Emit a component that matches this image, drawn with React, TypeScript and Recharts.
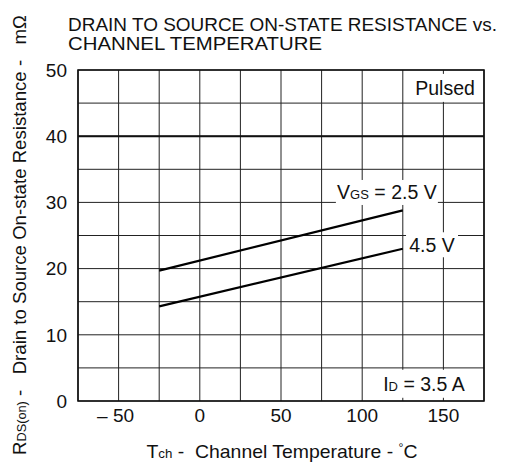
import React from 'react';
import {
  LineChart,
  Line,
  XAxis,
  YAxis,
  CartesianGrid,
  ReferenceLine,
  ReferenceArea,
  ReferenceDot,
  Label,
} from 'recharts';

// Channel temperature (°C) at the ends of each curve
const temps = [-25, 125];
// RDS(on) in mΩ
const vgs25 = [19.7, 28.8];
const vgs45 = [14.3, 23.0];

const xTicks = [-75, -50, -25, 0, 25, 50, 75, 100, 125, 150, 175];
const xLabelled = [-50, 0, 50, 100, 150];
const yTicks = [0, 5, 10, 15, 20, 25, 30, 35, 40, 45, 50];
const yLabelled = [0, 10, 20, 30, 40, 50];

const data = temps.map((t, i) => ({ t, v25: vgs25[i], v45: vgs45[i] }));

const FONT = '"Liberation Sans", Arial, Helvetica, sans-serif';

type BoxProps = {
  viewBox?: any;
  w: number;
  h: number;
  children: React.ReactNode;
  fontSize?: number;
};

const BoxLabel = ({ viewBox, w, h, children, fontSize = 19.5 }: BoxProps) => {
  if (!viewBox) return null;
  const cx = viewBox.x + (viewBox.width || 0) / 2;
  const cy = viewBox.y + (viewBox.height || 0) / 2;
  return (
    <g>
      <rect x={cx - w / 2} y={cy - h / 2} width={w} height={h} fill="#fff" />
      <text
        x={cx}
        y={cy}
        dy="0.36em"
        textAnchor="middle"
        fontFamily={FONT}
        fontSize={fontSize}
        fill="#111"
      >
        {children}
      </text>
    </g>
  );
};

const XTick = (props: any) => {
  const { x, y, payload } = props;
  const v = payload.value;
  if (!xLabelled.includes(v)) return null;
  const txt = v < 0 ? `– ${Math.abs(v)}` : `${v}`;
  return (
    <text
      x={x}
      y={y}
      dy="0.71em"
      dx={v < 0 ? -3 : 0}
      textAnchor="middle"
      fontFamily={FONT}
      fontSize={19}
      fill="#111"
    >
      {txt}
    </text>
  );
};

const YTick = (props: any) => {
  const { x, y, payload } = props;
  const v = payload.value;
  if (!yLabelled.includes(v)) return null;
  return (
    <text
      x={x}
      y={y}
      dy="0.36em"
      textAnchor="end"
      fontFamily={FONT}
      fontSize={19}
      fill="#111"
    >
      {v}
    </text>
  );
};

export default function App() {
  return (
    <div style={{ position: 'absolute', left: 0, top: 0, width: 516, height: 467, background: '#fff' }}>
      <svg
        width={516}
        height={467}
        style={{ position: 'absolute', left: 0, top: 0 }}
      >
        <text x={68} y={31} fontFamily={FONT} fontSize={18.5} fill="#111" textLength={429} lengthAdjust="spacingAndGlyphs">
          DRAIN TO SOURCE ON-STATE RESISTANCE vs.
        </text>
        <text x={68} y={50} fontFamily={FONT} fontSize={18.5} fill="#111" textLength={254} lengthAdjust="spacingAndGlyphs">
          CHANNEL TEMPERATURE
        </text>
        <text
          transform="translate(26, 235) rotate(-90)"
          textAnchor="middle"
          fontFamily={FONT}
          fontSize={19}
          fill="#111"
          textLength={440}
          lengthAdjust="spacingAndGlyphs"
          style={{ whiteSpace: 'pre' }}
        >
          R<tspan fontSize={13}>DS(on)</tspan>{' -   Drain to Source On-state Resistance -   mΩ'}
        </text>
        <text
          x={282}
          y={458}
          textAnchor="middle"
          fontFamily={FONT}
          fontSize={19}
          fill="#111"
          textLength={271}
          lengthAdjust="spacingAndGlyphs"
          style={{ whiteSpace: 'pre' }}
        >
          T<tspan fontSize={13}>ch</tspan>{' -  Channel Temperature - '}
          <tspan fontSize={12} dy={-6}>°</tspan>
          <tspan dy={6}>C</tspan>
        </text>
      </svg>
      <div style={{ position: 'absolute', left: 0, top: 0 }}>
        <LineChart
          width={516}
          height={467}
          data={data}
          margin={{ top: 70, right: 32, left: 0, bottom: 0 }}
        >
          <CartesianGrid stroke="#222" strokeWidth={1} fill="none" />
          <XAxis
            dataKey="t"
            type="number"
            domain={[-75, 175]}
            ticks={xTicks}
            interval={0}
            height={66}
            axisLine={false}
            tickLine={false}
            tickSize={0}
            tickMargin={8}
            tick={<XTick />}
          />
          <YAxis
            type="number"
            domain={[0, 50]}
            ticks={yTicks}
            interval={0}
            width={78}
            axisLine={false}
            tickLine={false}
            tickSize={0}
            tickMargin={11}
            tick={<YTick />}
          />
          <ReferenceLine y={40} stroke="#111" strokeWidth={2} />
          <ReferenceDot x={151} y={47.3} r={0} fill="none" stroke="none">
            <Label content={(p: any) => <BoxLabel viewBox={p.viewBox} w={70} h={28}>Pulsed</BoxLabel>} />
          </ReferenceDot>
          <ReferenceDot x={138} y={2.6} r={0} fill="none" stroke="none">
            <Label
              content={(p: any) => (
                <BoxLabel viewBox={p.viewBox} w={96} h={28}>
                  I<tspan fontSize={13}>D</tspan> = 3.5 A
                </BoxLabel>
              )}
            />
          </ReferenceDot>
          <ReferenceDot x={115.2} y={31.5} r={0} fill="none" stroke="none">
            <Label
              content={(p: any) => (
                <BoxLabel viewBox={p.viewBox} w={102} h={25}>
                  V<tspan fontSize={13}>GS</tspan> = 2.5 V
                </BoxLabel>
              )}
            />
          </ReferenceDot>
          <ReferenceDot x={143} y={23.6} r={0} fill="none" stroke="none">
            <Label content={(p: any) => <BoxLabel viewBox={p.viewBox} w={52} h={25}>4.5 V</BoxLabel>} />
          </ReferenceDot>
          <ReferenceArea
            x1={-75}
            x2={175}
            y1={0}
            y2={50}
            fill="none"
            fillOpacity={0}
            stroke="#111"
            strokeWidth={1.6}
          />
          <Line
            dataKey="v25"
            stroke="#000"
            strokeWidth={2.2}
            dot={false}
            isAnimationActive={false}
          />
          <Line
            dataKey="v45"
            stroke="#000"
            strokeWidth={2.2}
            dot={false}
            isAnimationActive={false}
          />
        </LineChart>
      </div>
    </div>
  );
}
